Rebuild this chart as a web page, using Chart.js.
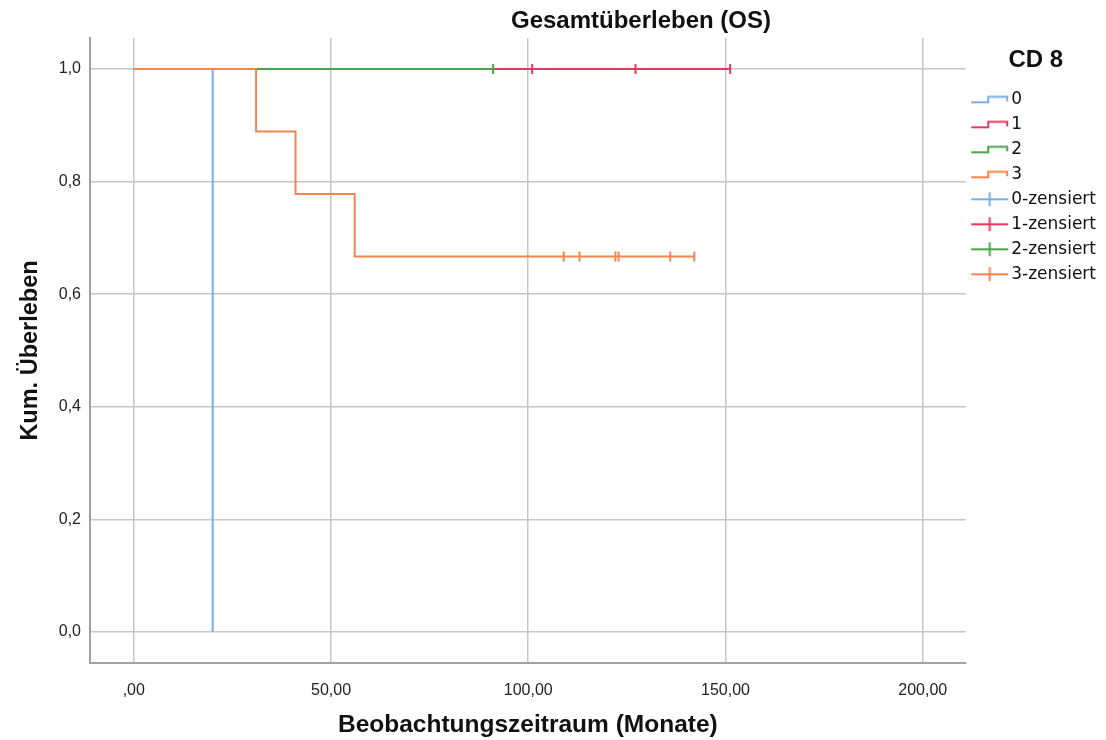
<!DOCTYPE html>
<html>
<head>
<meta charset="utf-8">
<title>Gesamtüberleben (OS)</title>
<script src="https://cdn.jsdelivr.net/npm/chart.js@4/dist/chart.umd.min.js"></script>
<style>
  html, body { margin: 0; padding: 0; background: #ffffff; }
  #wrap { width: 1106px; height: 740px; }
</style>
</head>
<body>
<div id="wrap"><canvas id="km" width="1106" height="740"></canvas></div>
<script>
// Axis ticks and their printed labels (German decimal comma)
const timeTicks = [0, 50, 100, 150, 200];
const timeTickLabels = [',00', '50,00', '100,00', '150,00', '200,00'];
const survTicks = [0, 0.2, 0.4, 0.6, 0.8, 1.0];
const survTickLabels = ['0,0', '0,2', '0,4', '0,6', '0,8', '1,0'];

// CD 8 groups
const groupNames = ['0', '1', '2', '3'];
const groupColors = ['#78acec', '#e8375e', '#4ba34b', '#f7834d'];

// Kaplan-Meier step curves: event/end times (months) and survival after each time
const curveTime0 = [0, 20];
const curveSurv0 = [1, 0];
const curveTime1 = [0, 151.2];
const curveSurv1 = [1, 1];
const curveTime2 = [0, 91.1];
const curveSurv2 = [1, 1];
const curveTime3 = [0, 31, 41, 56, 142.1];
const curveSurv3 = [1, 0.889, 0.778, 0.667, 0.667];

// Censored observations (months)
const censorTime0 = [];
const censorTime1 = [101, 127.2, 151.2];
const censorTime2 = [91.1];
const censorTime3 = [109, 113, 122.1, 122.9, 136, 142.1];

const curveTimes = [curveTime0, curveTime1, curveTime2, curveTime3];
const curveSurvs = [curveSurv0, curveSurv1, curveSurv2, curveSurv3];
const censorTimes = [censorTime0, censorTime1, censorTime2, censorTime3];

function survivalAt(times, surv, t) {
  let s = surv[0];
  for (let i = 0; i < times.length; i++) {
    if (times[i] <= t) s = surv[i];
  }
  return s;
}

function stepIcon(color) {
  const c = document.createElement('canvas');
  c.width = 44; c.height = 18;
  const g = c.getContext('2d');
  g.strokeStyle = color;
  g.lineWidth = 2;
  g.beginPath();
  g.moveTo(5, 12);
  g.lineTo(22, 12);
  g.lineTo(22, 6.5);
  g.lineTo(41, 6.5);
  g.lineTo(41, 11);
  g.stroke();
  return c;
}

function crossIcon(color) {
  const c = document.createElement('canvas');
  c.width = 44; c.height = 18;
  const g = c.getContext('2d');
  g.strokeStyle = color;
  g.lineWidth = 2;
  g.beginPath();
  g.moveTo(5, 9);
  g.lineTo(42, 9);
  g.moveTo(23.5, 2);
  g.lineTo(23.5, 16);
  g.stroke();
  return c;
}

// Curves: later groups sit on top (lower "order" is drawn last)
const curveDatasets = groupNames.map((name, g) => ({
  type: 'line',
  label: name,
  data: curveTimes[g].map((t, i) => ({ x: t, y: curveSurvs[g][i] })),
  stepped: 'before',
  borderColor: groupColors[g],
  backgroundColor: groupColors[g],
  borderWidth: 2,
  pointRadius: 0,
  fill: false,
  order: 4 - g
}));

const censorDatasets = groupNames.map((name, g) => ({
  type: 'line',
  label: name + '-zensiert',
  data: censorTimes[g].map(t => ({ x: t, y: survivalAt(curveTimes[g], curveSurvs[g], t) })),
  showLine: false,
  pointStyle: 'line',
  rotation: 90,
  radius: 5,
  pointRadius: 5,
  pointBorderWidth: 2,
  pointBorderColor: groupColors[g],
  borderColor: groupColors[g],
  backgroundColor: groupColors[g],
  order: 0
}));

const legendIcons = groupNames.map((n, g) => stepIcon(groupColors[g]))
  .concat(groupNames.map((n, g) => crossIcon(groupColors[g])));

const chartTitle = {
  id: 'chartTitle',
  afterDraw(chart) {
    const ctx = chart.ctx;
    ctx.save();
    ctx.font = 'bold 24px "Liberation Sans", Arial, sans-serif';
    ctx.fillStyle = '#111111';
    ctx.textAlign = 'center';
    ctx.textBaseline = 'middle';
    ctx.fillText('Gesamtüberleben (OS)', 641, 21);
    ctx.restore();
  }
};

new Chart(document.getElementById('km'), {
  data: { datasets: curveDatasets.concat(censorDatasets) },
  plugins: [chartTitle],
  options: {
    responsive: false,
    animation: false,
    events: [],
    layout: { padding: { top: 38, right: 0, bottom: 0, left: 0 } },
    scales: {
      x: {
        type: 'linear',
        min: -11.1,
        max: 210.9,
        afterBuildTicks(scale) { scale.ticks = timeTicks.map(v => ({ value: v })); },
        afterFit(scale) { scale.height = 77; },
        ticks: {
          autoSkip: false,
          maxRotation: 0,
          padding: 18,
          color: '#222222',
          font: { family: '"Liberation Sans", Arial, sans-serif', size: 16 },
          callback: (v, i) => timeTickLabels[i]
        },
        grid: { color: '#c6c6c6', lineWidth: 1.5, drawTicks: false },
        border: { display: true, color: '#a2a2a2', width: 2 },
        title: {
          display: true,
          text: 'Beobachtungszeitraum (Monate)',
          color: '#111111',
          font: { family: '"Liberation Sans", Arial, sans-serif', size: 24.5, weight: 'bold' },
          padding: { top: 0, bottom: 0 }
        }
      },
      y: {
        type: 'linear',
        min: -0.055,
        max: 1.055,
        afterBuildTicks(scale) { scale.ticks = survTicks.map(v => ({ value: v })); },
        afterFit(scale) { scale.width = 90; },
        ticks: {
          autoSkip: false,
          padding: 9,
          color: '#222222',
          font: { family: '"Liberation Sans", Arial, sans-serif', size: 16 },
          callback: (v, i) => survTickLabels[i]
        },
        grid: { color: '#c6c6c6', lineWidth: 1.5, drawTicks: false },
        border: { display: true, color: '#a2a2a2', width: 2 },
        title: {
          display: true,
          text: 'Kum. Überleben',
          color: '#111111',
          font: { family: '"Liberation Sans", Arial, sans-serif', size: 23.5, weight: 'bold' },
          padding: { top: 16, bottom: 0 }
        }
      }
    },
    plugins: {
      tooltip: { enabled: false },
      legend: {
        display: true,
        position: 'right',
        align: 'start',
        title: {
          display: true,
          text: 'CD 8',
          color: '#111111',
          font: { family: '"Liberation Sans", Arial, sans-serif', size: 24, weight: 'bold' },
          padding: { top: 10, bottom: 6 }
        },
        labels: {
          usePointStyle: true,
          pointStyleWidth: 29,
          padding: 8,
          color: '#222222',
          font: { family: '"DejaVu Sans", sans-serif', size: 17 },
          generateLabels(chart) {
            return chart.data.datasets.map((ds, i) => ({
              text: ds.label,
              pointStyle: legendIcons[i],
              fillStyle: groupColors[i % 4],
              strokeStyle: groupColors[i % 4],
              lineWidth: 0,
              hidden: false,
              datasetIndex: i
            }));
          }
        }
      }
    }
  }
});
</script>
</body>
</html>
